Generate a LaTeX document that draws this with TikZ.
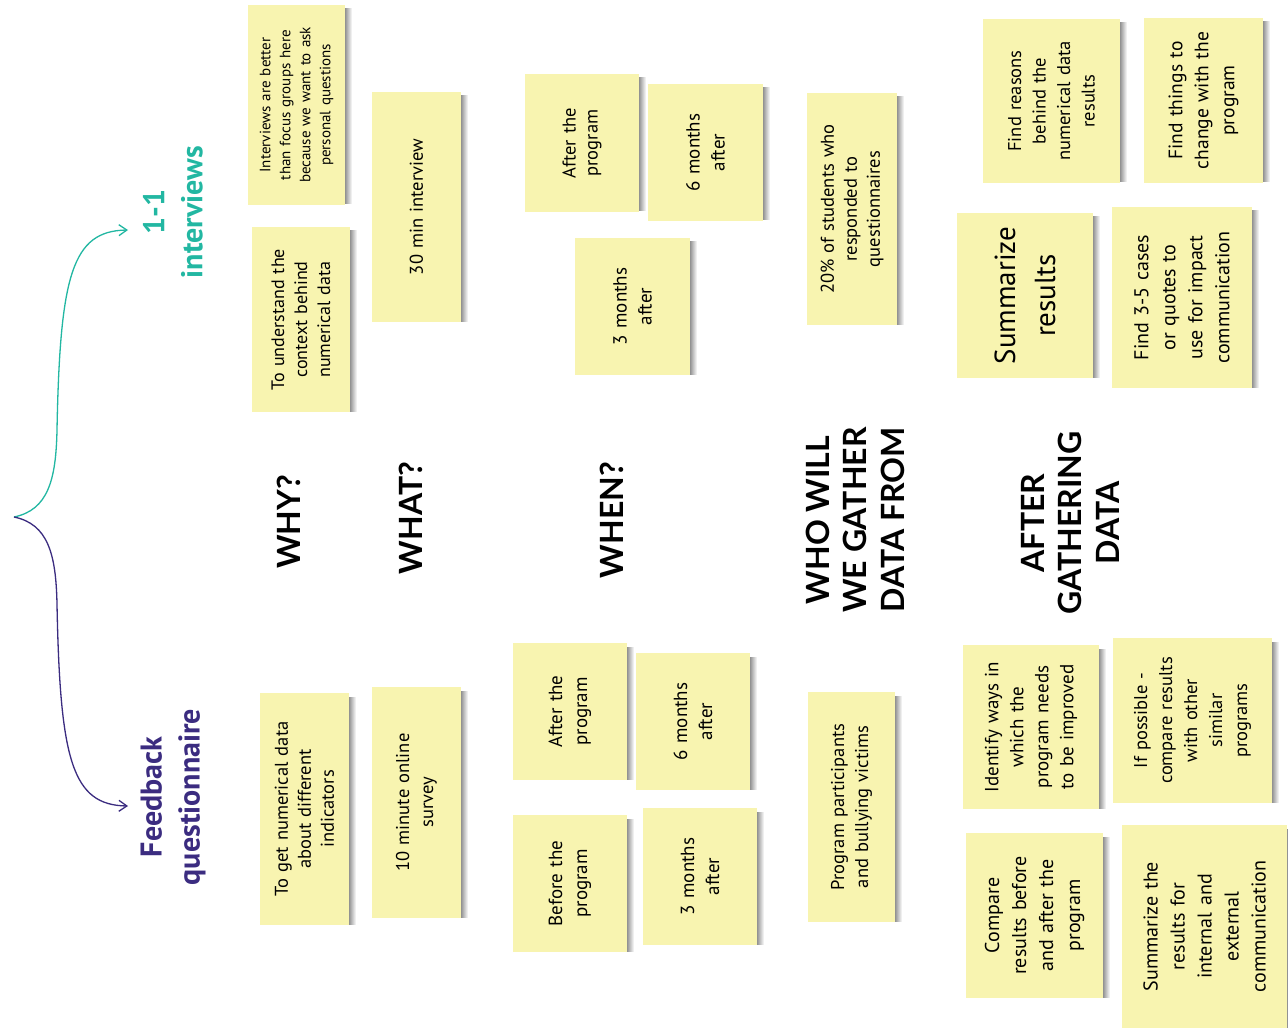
\documentclass[tikz,border=0pt]{standalone}
\usepackage{fontspec}
\setmainfont{PT Sans}
\newfontfamily\headfont{Lato}
\usetikzlibrary{arrows.meta}
\definecolor{notey}{HTML}{F8F4B0}
\definecolor{qpurple}{HTML}{3B2C80}
\definecolor{iteal}{HTML}{22B7A2}

\tikzset{
  note/.style={fill=notey, rotate=90, inner sep=2pt, align=center},
  heading/.style={rotate=90, align=center, inner sep=0pt,
    font=\headfont\bfseries\fontsize{32}{37.5}\selectfont},
  title/.style={rotate=90, align=center, inner sep=0pt,
    font=\bfseries\fontsize{30}{38}\selectfont},
  brace/.style={line width=1.3pt, -{Straight Barb[length=8pt,width=11pt,line width=1.3pt]}}
}

% sticky note: name, left, top, right, bottom (in page pixels), size, baseline, text
\newcommand\postit[8]{%
  \pgfmathsetmacro\pw{#4-#2}\pgfmathsetmacro\ph{#5-#3}%
  \pgfmathsetmacro\cx{(#2+#4)/2}\pgfmathsetmacro\cy{(#3+#5)/2}%
  \pgfmathsetmacro\tw{\ph-16}%
  \shade[left color=black!55, right color=white] (#4-2,#3+4) rectangle (#4+7,#5-1);
  \node[note, minimum width=\ph pt, minimum height=\pw pt, text width=\tw pt,
        font=\fontsize{#6}{#7}\selectfont] (#1) at (\cx,\cy) {#8};%
}

\begin{document}
\begin{tikzpicture}[x=1pt,y=-1pt]
\useasboundingbox[fill=white] (0,0) rectangle (1288,1035);

% branching brace
\coordinate (tip) at (14,517);
\coordinate (iend) at (128,230);
\coordinate (qend) at (128,806);
\node[title, text=iteal] (inter) at (173,212) {1-1\\interviews};
\node[title, text=qpurple] (quest) at (173,797) {Feedback\\questionnaire};
\draw[brace, iteal] (tip) .. controls (48,510) and (56,480) .. (57,430)
  .. controls (60,275) and (72,231) .. (iend);
\draw[brace, qpurple] (tip) .. controls (48,524) and (56,554) .. (57,604)
  .. controls (60,760) and (72,805) .. (qend);

% row headings
\node[heading] (why) at (289,522) {WHY?};
\node[heading] (what) at (411,518) {WHAT?};
\node[heading] (when) at (612,520) {WHEN?};
\node[heading] (who) at (855,520) {WHO WILL\\WE GATHER\\DATA FROM};
\node[heading] (after) at (1070,523) {AFTER\\GATHERING\\DATA};

% why
\postit{whyI}{248}{5}{345}{205}{15}{20}{Interviews are better\\than focus groups here\\because we want to ask\\personal questions}
\postit{whyIb}{252}{227}{350}{412}{18}{23}{To understand the\\context behind\\numerical data}
\postit{whyQ}{260}{693}{349}{925}{18.5}{23}{To get numerical data\\about different\\indicators}

% what
\postit{whatI}{372}{92}{461}{322}{18.5}{23}{30 min interview}
\postit{whatQ}{372}{687}{461}{918}{18.5}{24}{10 minute online\\survey}

% when
\postit{whenIa}{525}{74}{639}{212}{18.5}{22}{After the\\program}
\postit{whenIb}{648}{84}{763}{221}{19}{25}{6 months\\after}
\postit{whenIc}{575}{238}{690}{375}{19}{25}{3 months\\after}
\postit{whenQa}{513}{643}{627}{780}{19}{25}{After the\\program}
\postit{whenQb}{636}{653}{750}{790}{19}{25}{6 months\\after}
\postit{whenQc}{513}{815}{627}{952}{19}{25}{Before the\\program}
\postit{whenQd}{643}{808}{757}{945}{19}{25}{3 months\\after}

% who
\postit{whoI}{807}{93}{897}{325}{18.5}{23}{20\% of students who\\responded to\\questionnaires}
\postit{whoQ}{808}{692}{895}{922}{18.5}{24}{Program participants\\and bullying victims}

% after gathering data
\postit{aftIa}{983}{19}{1120}{183}{18.5}{24.5}{Find reasons\\behind the\\numerical data\\results}
\postit{aftIb}{1144}{18}{1263}{183}{19.5}{26}{Find things to\\change with the\\program}
\postit{aftIc}{957}{213}{1093}{378}{29}{40}{Summarize\\results}
\postit{aftId}{1112}{207}{1252}{388}{20}{27}{Find 3-5 cases\\or quotes to\\use for impact\\communication}
\postit{aftQa}{963}{645}{1099}{809}{19}{25}{Identify ways in\\which the\\program needs\\to be improved}
\postit{aftQb}{1113}{638}{1272}{803}{18.5}{25}{If possible -\\compare results\\with other\\similar\\programs}
\postit{aftQc}{966}{833}{1103}{998}{20}{27}{Compare\\results before\\and after the\\program}
\postit{aftQd}{1122}{825}{1287}{1028}{20}{27}{Summarize the\\results for\\internal and\\external\\communication}
\end{tikzpicture}
\end{document}
